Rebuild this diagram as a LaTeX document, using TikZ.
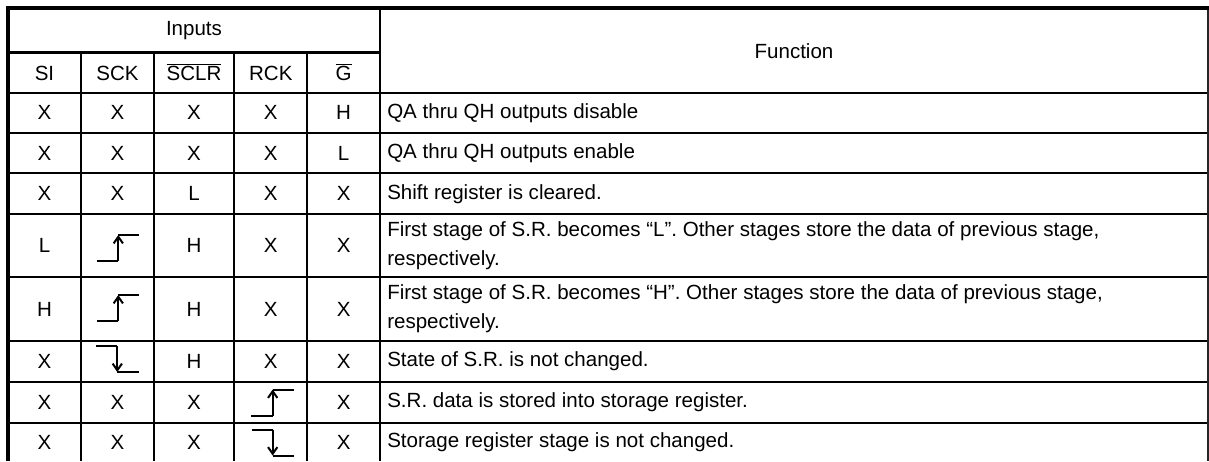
\documentclass[tikz,border=0pt]{standalone}
\usepackage{fontspec}
\setmainfont{Liberation Sans}
\usetikzlibrary{arrows.meta}
\newcommand{\ovl}[1]{$\overline{\mbox{#1}}$}
\begin{document}
\begin{tikzpicture}[x=0.75pt,y=-0.75pt,
  grid/.style={line width=1.6pt,black},
  thickline/.style={line width=3pt,black},
  medline/.style={line width=2.25pt,black},
  rborder/.style={line width=1.3pt,black!85},
  cell/.style={font=\fontsize{15.4}{21.75}\selectfont,inner sep=0pt},
  func/.style={cell,anchor=west,align=left},
  edgeline/.style={line width=1.5pt},
  edgearrow/.style={line width=1.5pt,-{Straight Barb[length=5pt,width=7pt]}}]
\useasboundingbox (0,0) rectangle (1209,461);
% grid
\draw[grid] (81,52) -- (81,461);
\draw[grid] (154,52) -- (154,461);
\draw[grid] (234.3,52) -- (234.3,461);
\draw[grid] (307.3,52) -- (307.3,461);
\draw[grid] (380,8) -- (380,461);
\foreach \yy in {92.7,133.3,173.3,214,277.3,340.7,381.7,422.7}
  \draw[grid] (8,\yy) -- (1208,\yy);
\draw[rborder] (1208,8) -- (1208,461);
\draw[medline] (8,52) -- (380,52);
\draw[thickline] (6,8) -- (1209,8);
\draw[thickline] (8,6) -- (8,461);
% header
\node[cell] (inputs) at (194,31) {Inputs};
\node[cell] (function) at (794,51) {Function};
\node[cell] (hSI) at (44.5,73) {SI};
\node[cell] (hSCK) at (117.5,73) {SCK};
\node[cell] (hSCLR) at (194,72) {\ovl{SCLR}};
\node[cell] (hRCK) at (270.8,73) {RCK};
\node[cell] (hG) at (343.6,72) {\ovl{G}};
% row contents
\def\ca{44.5}\def\cb{117.5}\def\cc{194}\def\cd{270.8}\def\ce{343.6}\def\fx{387}
% row 1
\node[cell] (r1a) at (\ca,112.9) {X};
\node[cell] (r1b) at (\cb,112.9) {X};
\node[cell] (r1c) at (\cc,112.9) {X};
\node[cell] (r1d) at (\cd,112.9) {X};
\node[cell] (r1e) at (\ce,112.9) {H};
\node[func] (r1f) at (\fx,112.9) {QA thru QH outputs disable};
% row 2
\node[cell] (r2a) at (\ca,153.3) {X};
\node[cell] (r2b) at (\cb,153.3) {X};
\node[cell] (r2c) at (\cc,153.3) {X};
\node[cell] (r2d) at (\cd,153.3) {X};
\node[cell] (r2e) at (\ce,153.3) {L};
\node[func] (r2f) at (\fx,153.3) {QA thru QH outputs enable};
% row 3
\node[cell] (r3a) at (\ca,193.7) {X};
\node[cell] (r3b) at (\cb,193.7) {X};
\node[cell] (r3c) at (\cc,193.7) {L};
\node[cell] (r3d) at (\cd,193.7) {X};
\node[cell] (r3e) at (\ce,193.7) {X};
\node[func] (r3f) at (\fx,193.7) {Shift register is cleared.};
% row 4
\node[cell] (r4a) at (\ca,245.7) {L};
\node[cell] (r4c) at (\cc,245.7) {H};
\node[cell] (r4d) at (\cd,245.7) {X};
\node[cell] (r4e) at (\ce,245.7) {X};
\node[func] (r4f) at (\fx,245.7) {First stage of S.R. becomes “L”. Other stages store the data of previous stage,\\respectively.};
% row 5
\node[cell] (r5a) at (\ca,309) {H};
\node[cell] (r5c) at (\cc,309) {H};
\node[cell] (r5d) at (\cd,309) {X};
\node[cell] (r5e) at (\ce,309) {X};
\node[func] (r5f) at (\fx,309) {First stage of S.R. becomes “H”. Other stages store the data of previous stage,\\respectively.};
% row 6
\node[cell] (r6a) at (\ca,361.2) {X};
\node[cell] (r6c) at (\cc,361.2) {H};
\node[cell] (r6d) at (\cd,361.2) {X};
\node[cell] (r6e) at (\ce,361.2) {X};
\node[func] (r6f) at (\fx,361.2) {State of S.R. is not changed.};
% row 7
\node[cell] (r7a) at (\ca,402.2) {X};
\node[cell] (r7b) at (\cb,402.2) {X};
\node[cell] (r7c) at (\cc,402.2) {X};
\node[cell] (r7e) at (\ce,402.2) {X};
\node[func] (r7f) at (\fx,402.2) {S.R. data is stored into storage register.};
% row 8
\node[cell] (r8a) at (\ca,442.5) {X};
\node[cell] (r8b) at (\cb,442.5) {X};
\node[cell] (r8c) at (\cc,442.5) {X};
\node[cell] (r8e) at (\ce,442.5) {X};
\node[func] (r8f) at (\fx,442.5) {Storage register stage is not changed.};
% edge symbols: rising
\foreach \vx/\vy in {118.3/248, 118.3/308, 272.7/402.5}{
  \draw[edgeline] (\vx-21.5,\vy+13) -- (\vx,\vy+13);
  \draw[edgearrow] (\vx,\vy+13) -- (\vx,\vy-13);
  \draw[edgeline] (\vx,\vy-13) -- (\vx+21,\vy-13);
}
% falling
\foreach \vx/\vy in {117.3/359, 272.7/442.5}{
  \draw[edgeline] (\vx-21,\vy-13) -- (\vx,\vy-13);
  \draw[edgearrow] (\vx,\vy-13) -- (\vx,\vy+13);
  \draw[edgeline] (\vx,\vy+13) -- (\vx+21.5,\vy+13);
}
\end{tikzpicture}
\end{document}
